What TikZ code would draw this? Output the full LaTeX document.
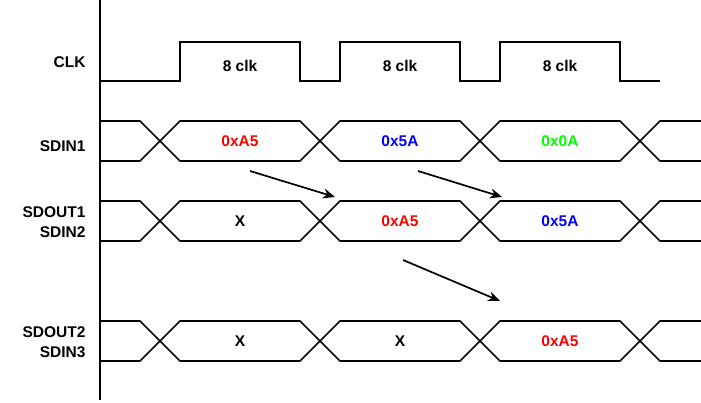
\documentclass[tikz,border=0pt]{standalone}
\usepackage{fontspec}
\setmainfont{Liberation Sans}
\usetikzlibrary{arrows.meta}
\definecolor{valred}{rgb}{1,0,0}
\definecolor{valblue}{rgb}{0,0,1}
\definecolor{valgreen}{rgb}{0,1,0}

\begin{document}
\begin{tikzpicture}[x=1pt, y=-1pt]
\tikzset{wave/.style={draw=black, line width=1.7pt, line join=miter}}
\tikzset{sig/.style={anchor=east, align=right, font=\fontsize{15.5}{19.5}\selectfont\bfseries}}
\tikzset{val/.style={font=\fontsize{15.5}{18}\selectfont\bfseries}}
\tikzset{shift arrow/.style={draw, line width=1.7pt, -{Stealth[length=12pt, width=10pt]}}}

\useasboundingbox (0,0) rectangle (701,403);

%% time axis
\draw[wave] (100,0) -- (100,400);

%% Clock
\draw[wave] (100,81) -- (180,81) -- (180,42) -- (300,42) -- (300,81)
    -- (340,81) -- (340,42) -- (460,42) -- (460,81)
    -- (500,81) -- (500,42) -- (620,42) -- (620,81) -- (660,81);

%% Buses
\foreach \yt/\yb in {121/161, 201/241, 321/361} {
    \draw[wave] (100,\yt) -- (140,\yt) -- (180,\yb) -- (300,\yb) -- (340,\yt)
        -- (460,\yt) -- (500,\yb) -- (620,\yb) -- (660,\yt) -- (701,\yt);
    \draw[wave] (100,\yb) -- (140,\yb) -- (180,\yt) -- (300,\yt) -- (340,\yb)
        -- (460,\yb) -- (500,\yt) -- (620,\yt) -- (660,\yb) -- (701,\yb);
}

%% Signal names
\node[sig] (clk) at (89,62) {CLK};
\node[sig] (sdin1) at (89,146) {SDIN1};
\node[sig] (sdout1) at (89,222) {SDOUT1\\SDIN2};
\node[sig] (sdout2) at (89,342) {SDOUT2\\SDIN3};

%% Clock labels
\node[val] (c1) at (240,66) {8 clk};
\node[val] (c2) at (400,66) {8 clk};
\node[val] (c3) at (560,66) {8 clk};

%% Data
\node[val, text=valred] (d11) at (240,141) {0xA5};
\node[val, text=valblue] (d12) at (400,141) {0x5A};
\node[val, text=valgreen] (d13) at (560,141) {0x0A};

\node[val] (d21) at (240,221) {X};
\node[val, text=valred] (d22) at (400,221) {0xA5};
\node[val, text=valblue] (d23) at (560,221) {0x5A};

\node[val] (d31) at (240,341) {X};
\node[val] (d32) at (400,341) {X};
\node[val, text=valred] (d33) at (560,341) {0xA5};

%% Shift arrows
\coordinate (s1) at (250,171);
\coordinate (e1) at (335,197);
\coordinate (s2) at (418,171);
\coordinate (e2) at (502,197);
\coordinate (s3) at (403,260);
\coordinate (e3) at (500,301);

\draw[shift arrow] (s1) -- (e1);
\draw[shift arrow] (s2) -- (e2);
\draw[shift arrow] (s3) -- (e3);

\end{tikzpicture}
\end{document}
